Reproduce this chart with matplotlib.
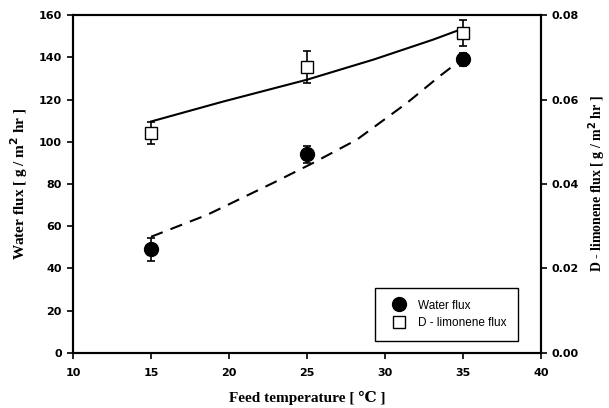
import matplotlib.pyplot as plt

# measured points
temps = [15, 25, 35]
water_flux = [49, 94, 139]
water_err = [5.5, 4, 3]
limonene_flux = [0.052, 0.0678, 0.0758]
limonene_err = [0.0026, 0.0038, 0.003]

# fitted curves
water_fit_t = [15, 18.6, 22.8, 25.4, 28.2, 31.4, 33.5, 35]
water_fit = [55, 65.4, 80.4, 90, 101, 118.3, 131, 139.5]
limonene_fit_t = [15, 19.6, 25, 29.3, 33.1, 35]
limonene_fit = [0.0548, 0.0595, 0.0647, 0.0695, 0.0742, 0.0768]

serif = ['Liberation Serif', 'DejaVu Serif']
sans = ['Liberation Sans', 'DejaVu Sans']

fig = plt.figure(figsize=(6.09, 4.08), dpi=100)
ax = fig.add_axes([0.12, 0.135, 0.768, 0.828])
ax2 = ax.twinx()

h1 = ax.errorbar(temps, water_flux, yerr=water_err, fmt='o', color='black',
                 markersize=10, capsize=3, elinewidth=1.2, capthick=1.2, zorder=5)
ax.plot(water_fit_t, water_fit, color='black', lw=1.5, linestyle=(0, (6, 4)))

h2 = ax2.errorbar(temps, limonene_flux, yerr=limonene_err, fmt='s', color='black',
                  mfc='white', mec='black', markersize=8, capsize=3,
                  elinewidth=1.2, capthick=1.2, zorder=5)
ax2.plot(limonene_fit_t, limonene_fit, color='black', lw=1.5)

ax.set_xlim(10, 40)
ax.set_ylim(0, 160)
ax2.set_ylim(0, 0.08)
ax.set_xticks([10, 15, 20, 25, 30, 35, 40])
ax.set_yticks([0, 20, 40, 60, 80, 100, 120, 140, 160])
ax2.set_yticks([0, 0.02, 0.04, 0.06, 0.08])
ax2.set_yticklabels(['0.00', '0.02', '0.04', '0.06', '0.08'])

for a in (ax, ax2):
    a.tick_params(direction='out', length=4, width=1.2, labelsize=8, pad=4)
    for lab in a.get_xticklabels() + a.get_yticklabels():
        lab.set_family('DejaVu Sans')
        lab.set_fontweight('bold')
    for s in a.spines.values():
        s.set_linewidth(1.5)
ax.tick_params(axis='x', pad=7)

ax.set_xlabel('Feed temperature [ ℃ ]', family=serif, fontweight='bold', fontsize=11, labelpad=9)
ax.set_ylabel('Water flux [ g / m$^\\mathbf{2}$ hr ]', family=serif, fontweight='bold', fontsize=11, labelpad=6)
ax2.set_ylabel('D - limonene flux [ g / m$^\\mathbf{2}$ hr ]', family=serif, fontweight='bold',
               fontsize=10, labelpad=5)

leg = ax.legend([h1[0], h2[0]], ['Water flux', 'D - limonene flux'], loc='lower right',
                bbox_to_anchor=(0.959, 0.024), fancybox=False, edgecolor='black',
                prop={'family': sans, 'size': 8.5}, handletextpad=0.6, borderpad=1.0,
                borderaxespad=0.3, framealpha=1)
leg.get_frame().set_linewidth(1.0)

fig.savefig('out.png', dpi=100)
